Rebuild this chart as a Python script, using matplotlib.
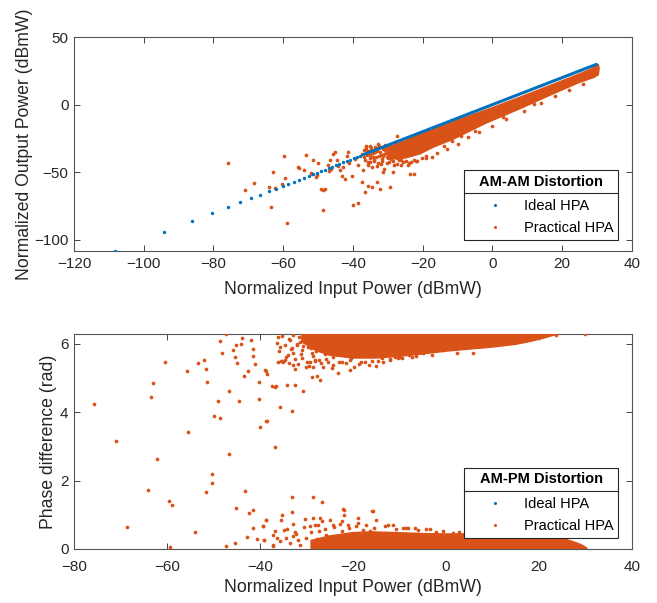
"""AM-AM / AM-PM distortion of an HPA: ideal vs practical amplifier."""

import matplotlib

matplotlib.use("Agg")
import matplotlib.pyplot as plt
from matplotlib.lines import Line2D

BLUE = "#0072BD"
ORANGE = "#D95319"
INK = "#262626"

plt.rcParams["font.family"] = ["Liberation Sans", "DejaVu Sans"]

# ---------------------------------------------------------------- AM-AM data
# input power of the sparse ideal-HPA samples (ideal output equals input)
ideal_in = [-108.2, -94.3, -86.3, -80.4, -75.9, -72.3, -69.2, -66.6, -64.2,
            -62.1, -60.2, -58.5, -56.9, -55.4, -54.0, -52.7, -51.5, -50.3,
            -49.2, -48.0, -46.9, -45.9, -44.9, -43.9, -42.8, -41.8, -40.8,
            -39.8, -38.9, -37.9]
# above -37 dBmW the ideal samples merge into a continuous line
ideal_line_in = [-37.0, 29.8]

# practical HPA, individually readable samples
amam_x = [-75.8, -70.9, -68.4, -64.2, -63.4, -63.0, -62.3, -60.4, -59.7, -59.4,
          -59.0, -55.9, -55.6, -54.1, -53.5, -52.0, -51.8, -51.4, -50.6, -50.4,
          -49.9, -49.3, -48.7, -48.5, -48.1, -47.3, -46.9, -46.6, -46.2, -45.6,
          -45.2, -44.7, -44.2, -43.7, -43.2, -42.8, -42.3, -41.8, -41.3, -41.0,
          -40.4, -40.0, -39.5, -38.6, -38.5, -37.5, -37.0, -36.6, -36.3, -35.6,
          -35.0, -34.6, -33.2, -32.7, -32.3, -31.5, -29.4, -28.5, -27.5, -23.7,
          -22.4, -17.4,
          -36.8, -36.5, -36.2, -35.9, -35.6, -35.3, -35.0, -34.8, -34.5, -34.2,
          -33.9, -33.6, -33.3, -33.0, -32.7, -32.4, -32.1, -31.8, -31.5, -31.2,
          -30.9, -30.6, -30.3, -30.0, -29.7, -29.4, -29.1, -28.8, -28.5, -28.2,
          -27.9, -27.6, -27.3, -27.0, -26.7, -26.4, -26.1, -25.8, -25.5, -25.2,
          -36.0, -35.2, -34.4, -33.7, -32.8, -32.0, -31.3, -30.5, -29.8, -29.0,
          -37.3, -36.9, -36.4, -35.7, -35.1, -34.6, -34.0, -33.5, -33.1, -32.6,
          -32.2, -31.7, -31.0, -30.7, -30.2, -29.6, -29.2, -28.6, -28.1, -27.4,
          -26.8, -26.2, -25.6, -24.9, -24.2, -23.3, -22.6, -21.5, -20.3, -19.1,
          -24.0, -22.0, -19.0, -16.0, -13.0, -10.0, -7.0, -4.0, 0.0, 4.0,
          9.0, 14.0, 18.0, 22.0, 26.0, -14.0, -11.5, -9.0, -5.0, 3.0, 12.0]
amam_y = [-43.1, -62.8, -58.1, -60.8, -75.4, -50.2, -61.6, -58.6, -38.2, -54.4,
          -87.2, -46.0, -46.7, -48.5, -37.2, -50.7, -51.6, -40.6, -53.7, -52.4,
          -42.9, -62.6, -63.5, -77.6, -62.3, -44.8, -48.8, -40.9, -47.6, -36.5,
          -35.2, -40.9, -45.3, -48.3, -52.5, -45.8, -54.9, -37.7, -35.2, -43.5,
          -52.5, -74.5, -40.0, -44.9, -72.7, -57.4, -48.0, -64.8, -30.3, -59.9,
          -42.5, -61.1, -57.4, -29.1, -62.3, -49.5, -61.1, -50.0, -22.9, -51.2,
          -51.2, -38.9,
          -33.5, -41.2, -31.0, -37.4, -44.8, -34.1, -39.6, -32.2, -46.3, -36.0,
          -41.7, -31.5, -38.8, -34.6, -43.5, -30.4, -36.9, -40.2, -33.1, -47.5,
          -29.6, -35.8, -38.7, -32.4, -42.1, -28.9, -34.7, -37.3, -31.2, -44.6,
          -27.8, -33.5, -39.8, -30.1, -36.2, -27.0, -41.3, -32.7, -29.4, -35.9,
          -35.0, -30.3, -39.0, -35.2, -32.0, -44.0, -37.8, -31.5, -36.5, -40.2,
          -36.2, -39.1, -33.0, -42.3, -37.1, -35.6, -40.8, -32.9, -45.2, -38.3,
          -34.9, -41.6, -36.8, -33.4, -43.1, -38.6, -35.0, -41.9, -37.5, -43.7,
          -40.6, -44.3, -42.1, -41.4, -44.9, -42.8, -40.9, -41.5, -39.6, -38.2,
          -43.0, -41.5, -39.5, -36.0, -32.5, -29.0, -24.0, -20.0, -16.0, -10.5,
          -5.0, 1.5, 6.5, 11.0, 15.5, -30.5, -27.0, -23.5, -19.5, -9.0, 0.5]

# solid part of the practical cloud (upper edge, then lower edge back)
amam_band_x = [-30.0, -26.0, -22.0, -15.0, -8.0, 0.0, 8.0, 17.0, 25.0, 28.5,
               29.6, 30.4, 30.6, 30.3, 29.0, 25.0, 17.4, 7.9, -1.7, -11.2,
               -17.0, -20.8, -25.0, -30.0]
amam_band_y = [-31.5, -27.8, -23.3, -16.3, -9.6, -2.2, 5.6, 14.6, 22.8, 26.6,
               28.6, 29.6, 26.5, 22.0, 20.0, 16.5, 8.0, -3.0, -13.5, -25.5,
               -31.5, -36.5, -39.5, -40.5]

# ---------------------------------------------------------------- AM-PM data
ampm_x = [-75.7, -70.9, -68.5, -64.1, -63.4, -62.9, -62.2, -60.4, -59.6, -58.9,
          -59.4, -55.8, -55.4, -54.0, -53.4, -52.0, -51.6, -51.3, -51.6, -50.3,
          -50.3, -49.9, -49.0, -48.5, -48.5, -48.1, -47.2, -47.2, -46.6, -46.6,
          -45.7, -45.4, -45.3, -45.1, -45.0, -45.2, -44.6, -44.0, -43.8, -43.4,
          -43.2, -42.8, -42.6, -42.3, -42.0, -41.6, -41.5, -41.4, -41.4, -41.0,
          -40.7, -40.2, -40.2, -40.1, -39.4, -39.1, -38.8, -38.6, -38.4, -38.4,
          -37.5, -37.3, -37.1, -36.7, -36.7, -35.8, -35.5, -35.0, -34.1, -33.1,
          -32.4, -30.7, -27.0, -38.9, -36.6, -28.9, -27.8, -23.2, -20.6, -38.6,
          -36.1, -35.3, -33.7, -32.8, -32.5, -30.0, -29.2, -28.5, -28.2, -26.4,
          -25.3, -24.6, -22.4, -20.6, -17.4, -13.8, -9.9,
          -36.1, -35.7, -33.5, -33.2, -32.8, -32.1, -31.4, -31.0, -30.7, -30.0,
          -29.6, -28.9, -28.5, -27.5, -27.1, -26.7, -26.0, -24.9,
          -36.4, -35.9, -35.2, -34.7, -34.3, -33.8, -33.4, -32.9, -32.5, -32.0,
          -31.6, -31.2, -30.8, -30.3, -29.9, -29.5, -29.1, -28.7, -28.3, -27.9,
          -27.5, -27.2, -26.8, -26.4, -26.0, -25.6, -25.2, -24.8, -24.4, -24.0,
          -23.6, -23.2, -22.8, -22.4, -22.0, -21.6, -21.2, -20.8, -20.4, -20.0,
          -19.6, -19.2, -18.8, -18.4, -18.0, -17.6, -17.2, -16.8, -16.4, -16.0,
          -15.5, -15.0, -14.5, -14.0, -13.5, -12.8, -12.0, -11.0, -9.5, -8.0,
          -6.5, -5.0, -0.7, 5.9, 23.7, 29.9,
          -33.2, -28.7, -26.7, -33.2, -38.6, -39.3, -39.1, -35.3, -35.5, -36.8,
          -36.3, -34.8, -34.3, -33.0, -32.5, -31.8, -30.3, -29.2, -28.5, -28.2,
          -27.1, -26.7, -27.4, -25.7, -24.9, -24.2, -22.4, -21.9, -21.9, -21.0,
          -18.9, -18.9, -15.8, -15.1, -17.8, -16.3, -12.4, -11.3, -9.2, -8.1,
          -2.1, 1.6, -22.1, -16.0, -6.7, -4.2,
          -37.1, -35.7, -33.5, -32.8, -31.4, -30.0, -28.9, -27.8, -26.4, -25.3,
          -24.6, -23.5, -22.4, -21.7, -20.6,
          -34.6, -33.9, -31.9, -30.9, -29.4, -28.1, -26.9, -25.9, -24.3, -23.1,
          -21.4, -19.7, -18.2, -16.6, -14.7, -12.1, -10.3, -7.4, -3.1, 2.4,
          -34.2, -32.3, -30.6, -29.0, -27.6, -26.1, -24.0, -22.7, -20.9, -19.3,
          -17.1, -15.4, -13.2, -10.8, -8.7, -6.0, -3.5, -0.6, 2.8]
ampm_y = [4.23, 3.16, 0.63, 1.73, 4.44, 4.85, 2.62, 5.47, 1.39, 1.28,
          0.06, 5.20, 3.41, 0.50, 5.43, 5.52, 5.27, 4.89, 1.66, 2.19,
          1.93, 3.90, 4.32, 3.84, 6.08, 5.73, 6.27, 0.10, 4.63, 2.78,
          5.82, 0.18, 5.61, 5.95, 5.43, 1.19, 4.32, 5.98, 6.17, 5.06,
          1.69, 0.34, 5.21, 1.04, 6.10, 0.60, 5.83, 5.64, 1.15, 5.40,
          0.28, 4.89, 4.39, 3.55, 0.66, 0.27, 5.21, 0.85, 5.11, 3.73,
          4.77, 0.40, 0.12, 4.74, 2.99, 4.14, 5.49, 5.47, 4.79, 4.04,
          4.79, 4.61, 4.95, 5.23, 4.77, 5.03, 5.05, 5.15, 5.23, 3.75,
          5.47, 5.50, 5.44, 5.37, 5.25, 5.31, 5.47, 5.33, 5.52, 5.33,
          5.47, 5.28, 5.47, 5.52, 5.47, 5.57, 5.62,
          6.20, 5.91, 6.11, 5.86, 5.72, 5.96, 6.06, 5.81, 6.20, 6.25,
          5.91, 5.72, 6.06, 6.15, 5.81, 6.01, 6.20, 6.11,
          6.02, 5.78, 6.22, 5.95, 5.62, 6.14, 5.84, 6.25, 5.55, 5.99,
          6.18, 5.69, 5.92, 6.09, 5.46, 6.23, 5.88, 5.63, 6.00, 5.79,
          6.26, 5.51, 5.94, 6.12, 5.70, 6.04, 5.86, 6.21, 5.60, 5.97,
          6.15, 5.74, 5.90, 6.07, 5.66, 6.24, 5.83, 6.01, 5.58, 5.95,
          6.19, 5.76, 5.41, 5.88, 6.10, 5.63, 5.99, 6.22, 5.72, 5.50,
          5.92, 5.35, 5.81, 5.60, 5.45, 5.70, 5.55, 5.62, 5.58, 5.68,
          5.63, 5.72, 5.81, 5.74, 6.25, 6.28,
          1.51, 1.51, 1.37, 1.08, 0.86, 0.66, 0.27, 1.00, 0.86, 0.52,
          0.32, 0.56, 0.32, 0.74, 0.49, 0.27, 0.88, 0.66, 0.91, 0.71,
          0.91, 0.81, 0.52, 0.42, 0.86, 0.71, 0.81, 1.15, 1.00, 0.71,
          0.91, 0.76, 1.10, 0.86, 0.56, 0.52, 0.71, 0.71, 0.61, 0.61,
          0.49, 0.47, 1.17, 1.10, 0.61, 0.58,
          0.08, 0.22, 0.17, 0.37, 0.13, 0.32, 0.13, 0.29, 0.17, 0.35,
          0.13, 0.27, 0.52, 0.17, 0.35,
          5.52, 5.68, 5.41, 5.59, 5.36, 5.49, 5.44, 5.56, 5.38, 5.47,
          5.42, 5.33, 5.46, 5.39, 5.48, 5.52, 5.57, 5.61, 5.66, 5.72,
          0.58, 0.44, 0.63, 0.51, 0.69, 0.57, 0.64, 0.72, 0.61, 0.67,
          0.70, 0.62, 0.66, 0.58, 0.60, 0.55, 0.57, 0.53, 0.51]

# solid clusters of the practical AM-PM cloud (wrapped near 2*pi and near 0)
ampm_top_band_x = [-31.0, -28.0, -25.0, -20.0, -15.0, -10.0, -5.0, 0.0, 5.0,
                   10.0, 15.0, 18.0, 21.0, 23.0, 24.5, 24.5, -31.0]
ampm_top_band_y = [6.05, 5.80, 5.66, 5.58, 5.58, 5.63, 5.70, 5.78, 5.84,
                   5.90, 5.98, 6.06, 6.16, 6.24, 6.30, 6.40, 6.40]
ampm_low_band_x = [-29.0, -25.0, -20.0, -16.0, -11.0, -5.0, 0.0, 5.0, 10.0,
                   15.0, 20.0, 24.0, 27.0, 29.0, 30.3, 30.3, -29.0]
ampm_low_band_y = [0.25, 0.38, 0.48, 0.50, 0.48, 0.45, 0.44, 0.44, 0.42,
                   0.42, 0.42, 0.35, 0.23, 0.13, 0.03, -0.10, -0.10]
# ideal HPA has zero phase difference; its samples sit under the low band
ideal_phase_in = [-26.0, 28.0]
ideal_phase = [0.0, 0.0]


def style_axes(ax, xlim, ylim, xticks, yticks, xpad):
    ax.set_xlim(*xlim)
    ax.set_ylim(*ylim)
    ax.set_xticks(xticks)
    ax.set_yticks(yticks)
    ax.tick_params(direction="in", top=True, right=True, length=4,
                   width=0.6, color=INK, labelcolor=INK, labelsize=11)
    ax.tick_params(axis="x", pad=xpad)
    ax.tick_params(axis="y", pad=4)
    for sp in ax.spines.values():
        sp.set_color("#555555")
        sp.set_linewidth(0.8)


def add_legend(fig, ax, title):
    handles = [
        Line2D([], [], ls="none", marker="o", ms=2.2, mew=0, color=BLUE),
        Line2D([], [], ls="none", marker="o", ms=2.2, mew=0, color=ORANGE),
    ]
    leg = ax.legend(handles, ["Ideal HPA", "Practical HPA"], title=title,
                    loc="lower right", bbox_to_anchor=(0.975, 0.053),
                    borderaxespad=0, fontsize=10.5, title_fontsize=10.5,
                    frameon=True, fancybox=False, framealpha=1,
                    edgecolor=INK, handlelength=3.5, handletextpad=0.25,
                    borderpad=0.32, labelspacing=0.55)
    # extra room between the title and the entries for the separator line
    leg._legend_box.sep = 7.5
    leg.set_zorder(10)
    leg.get_frame().set_linewidth(0.8)
    leg.get_title().set_fontweight("bold")
    leg.get_title().set_color("black")
    # separator line under the title, as in MATLAB titled legends
    fig.canvas.draw()
    bb = leg.get_window_extent()
    tb = leg.get_title().get_window_extent()
    y = (tb.y0 + tb.y1) / 2 - 11.5
    inv = fig.transFigure.inverted()
    (x0, yy), (x1, _) = inv.transform([(bb.x0, y), (bb.x1, y)])
    fig.add_artist(Line2D([x0, x1], [yy, yy], color=INK, lw=0.8,
                          transform=fig.transFigure, zorder=11))


def main():
    fig = plt.figure(figsize=(6.57, 6.03), dpi=100)
    ax1 = fig.add_axes([0.1126, 0.5837, 0.8493, 0.3549])
    ax2 = fig.add_axes([0.1126, 0.0896, 0.8493, 0.3566])

    # AM-AM
    ax1.fill(amam_band_x, amam_band_y, color=ORANGE, lw=1.0, zorder=3)
    ax1.scatter(amam_x, amam_y, s=7, color=ORANGE, lw=0, zorder=3)
    ax1.scatter(ideal_in, ideal_in, s=6, color=BLUE, lw=0, zorder=4)
    ax1.plot(ideal_line_in, ideal_line_in, color=BLUE, lw=2.2,
             solid_capstyle="round", zorder=4)
    style_axes(ax1, (-120, 40), (-108.3, 50), range(-120, 41, 20),
               [-100, -50, 0, 50], xpad=4.5)
    ax1.set_xlabel("Normalized Input Power (dBmW)", fontsize=12.7, color=INK,
                   labelpad=7)
    ax1.set_ylabel("Normalized Output Power (dBmW)", fontsize=12.7, color=INK,
                   labelpad=1)

    # AM-PM
    ax2.plot(ideal_phase_in, ideal_phase, color=BLUE, lw=2, zorder=2)
    ax2.fill(ampm_top_band_x, ampm_top_band_y, color=ORANGE, lw=1.0, zorder=3)
    ax2.fill(ampm_low_band_x, ampm_low_band_y, color=ORANGE, lw=1.0, zorder=3)
    ax2.scatter(ampm_x, ampm_y, s=7, color=ORANGE, lw=0, zorder=3)
    style_axes(ax2, (-80, 40), (0, 6.2832), range(-80, 41, 20), [0, 2, 4, 6],
               xpad=8)
    ax2.set_xlabel("Normalized Input Power (dBmW)", fontsize=12.7, color=INK,
                   labelpad=3.5)
    ax2.set_ylabel("Phase difference (rad)", fontsize=12.7, color=INK,
                   labelpad=2)

    add_legend(fig, ax1, "AM-AM Distortion")
    add_legend(fig, ax2, "AM-PM Distortion")

    fig.savefig("out.png", dpi=100)
    plt.close(fig)


if __name__ == "__main__":
    main()
